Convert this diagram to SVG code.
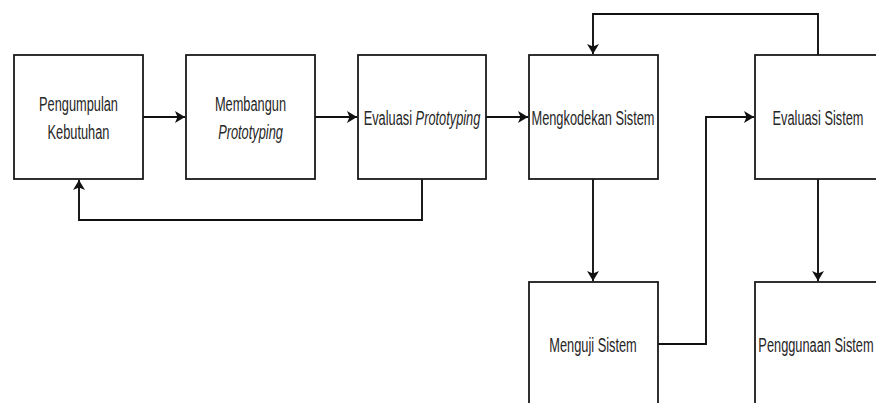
<svg xmlns="http://www.w3.org/2000/svg" width="876" height="403" viewBox="0 0 876 403">
<style>
.box{fill:#fff;stroke:#1a1a1a;stroke-width:1.8}
.t{font-family:"Liberation Sans",Arial,sans-serif;font-size:21px;fill:#262626;text-anchor:middle}
.i{font-style:italic}
.c{fill:none;stroke:#111;stroke-width:1.9}
</style>
<defs>
<marker id="ah" viewBox="0 0 10 12" refX="10" refY="6" markerWidth="10" markerHeight="12" markerUnits="userSpaceOnUse" orient="auto">
<path d="M0,0 L10,6 L0,12 L2.5,6 Z" fill="#111"/>
</marker>
</defs>
<rect width="876" height="403" fill="#fff"/>
<g id="connectors">
<path class="c" d="M143,117 H185" marker-end="url(#ah)"/>
<path class="c" d="M315,117 H357" marker-end="url(#ah)"/>
<path class="c" d="M486,117 H528" marker-end="url(#ah)"/>
<path class="c" d="M422,179 V220 H79 V180" marker-end="url(#ah)"/>
<path class="c" d="M818,55 V14 H593 V54" marker-end="url(#ah)"/>
<path class="c" d="M593,179 V281" marker-end="url(#ah)"/>
<path class="c" d="M658,344 H706 V117 H754" marker-end="url(#ah)"/>
<path class="c" d="M818,179 V281" marker-end="url(#ah)"/>
</g>
<g id="n1">
<rect class="box" x="14" y="55" width="129" height="124"/>
<g transform="translate(78.5,0) scale(0.61,1)"><text class="t" x="0" y="111">Pengumpulan</text><text class="t" x="0" y="139">Kebutuhan</text></g>
</g>
<g id="n2">
<rect class="box" x="186" y="55" width="129" height="124"/>
<g transform="translate(250.5,0) scale(0.61,1)"><text class="t" x="0" y="111">Membangun</text><text class="t i" x="0" y="139">Prototyping</text></g>
</g>
<g id="n3">
<rect class="box" x="358" y="55" width="128" height="124"/>
<g transform="translate(422,0) scale(0.61,1)"><text class="t" x="0" y="125.5">Evaluasi <tspan class="i">Prototyping</tspan></text></g>
</g>
<g id="n4">
<rect class="box" x="529" y="55" width="129" height="124"/>
<g transform="translate(593,0) scale(0.61,1)"><text class="t" x="0" y="125.5">Mengkodekan Sistem</text></g>
</g>
<g id="n5">
<rect class="box" x="755" y="55" width="127" height="124"/>
<g transform="translate(818,0) scale(0.61,1)"><text class="t" x="0" y="125.5">Evaluasi Sistem</text></g>
</g>
<g id="n6">
<rect class="box" x="529" y="282" width="129" height="124"/>
<g transform="translate(593,0) scale(0.61,1)"><text class="t" x="0" y="352.5">Menguji Sistem</text></g>
</g>
<g id="n7">
<rect class="box" x="755" y="282" width="127" height="124"/>
<g transform="translate(816,0) scale(0.61,1)"><text class="t" x="0" y="352.5">Penggunaan Sistem</text></g>
</g>
</svg>
